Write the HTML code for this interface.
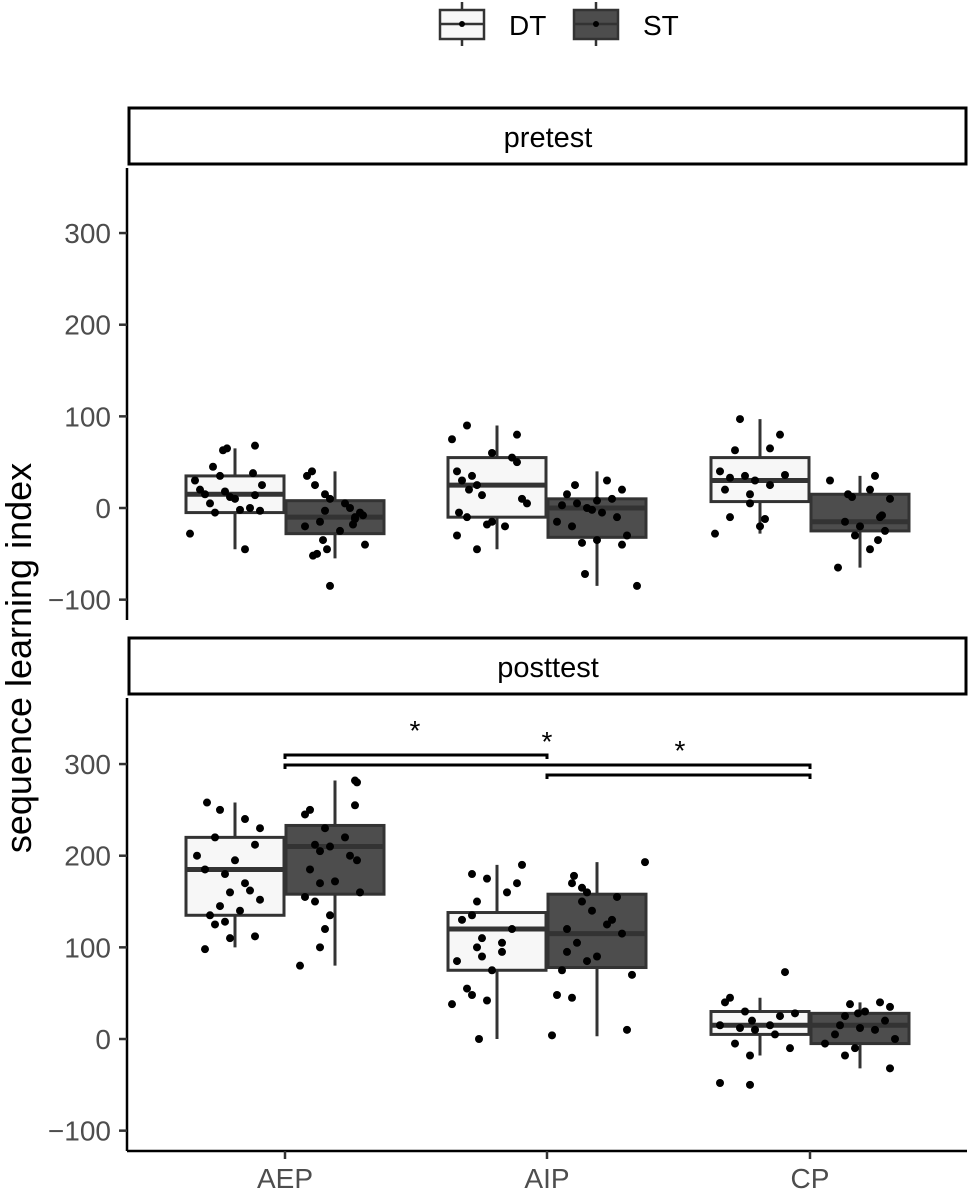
<!DOCTYPE html>
<html><head><meta charset="utf-8"><style>
body{margin:0;background:#fff;font-family:"Liberation Sans",sans-serif}
svg text{font-family:"Liberation Sans",sans-serif}
</style></head><body>
<svg id="c" width="969" height="1199" xmlns="http://www.w3.org/2000/svg">
<g id="legend">
 <g>
  <line x1="462" y1="2" x2="462" y2="46" stroke="#333" stroke-width="2.5"/>
  <rect x="440" y="10" width="44" height="29" fill="#f7f7f7" stroke="#333" stroke-width="2.5"/>
  <line x1="440" y1="24" x2="484" y2="24" stroke="#333" stroke-width="2.5"/>
  <circle cx="462" cy="24" r="3" fill="#000"/>
  <text x="509" y="35" font-size="28" fill="#000">DT</text>
 </g>
 <g>
  <line x1="596" y1="2" x2="596" y2="46" stroke="#333" stroke-width="2.5"/>
  <rect x="574" y="10" width="44" height="29" fill="#4d4d4d" stroke="#333" stroke-width="2.5"/>
  <line x1="574" y1="24" x2="618" y2="24" stroke="#333" stroke-width="2.5"/>
  <circle cx="596" cy="24" r="3" fill="#000"/>
  <text x="643" y="35" font-size="28" fill="#000">ST</text>
 </g>
</g>
<text transform="translate(31,658) rotate(-90)" text-anchor="middle" font-size="36" fill="#000">sequence learning index</text>
<g id="plot"></g>
</svg>
<script>
const categories=["AEP","AIP","CP"];
const groups=["DT","ST"];
const yTicks=[300,200,100,0,-100];
// [lowWhisker, q1, median, q3, highWhisker] per category, group
const preDT=[[-45,-5,15,35,65],[-45,-10,25,55,90],[-28,7,30,55,97]];
const preST=[[-55,-28,-10,8,40],[-85,-32,0,10,40],[-65,-25,-15,15,35]];
const postDT=[[100,135,185,220,258],[0,75,120,138,190],[-18,5,15,30,45]];
const postST=[[80,158,210,233,282],[3,78,115,158,193],[-32,-5,15,28,40]];
// jittered points (value, jitter)
const prePtsDT=[[65,63,68,45,35,30,20,15,12,10,5,0,-3,-5,-28,-45,-2,18,38,25,14],
 [90,80,75,60,55,50,40,35,30,25,20,10,-5,-10,-15,-20,-30,-45,-18,14,5],
 [97,80,65,63,40,35,30,25,20,15,-10,-12,-28,33,36,-20,5]];
const preJDT=[[-8,-12,20,-22,-15,-40,-35,-30,-5,0,-25,15,25,-20,-45,10,5,-10,18,27,20],
 [-30,20,-45,-5,15,20,-40,-25,-35,-20,-28,25,-38,-30,-5,8,-40,-20,-10,-15,30],
 [-20,20,10,-25,-40,-15,-5,10,-35,-10,-30,5,-45,-30,25,0,-10]];
const prePtsST=[[40,35,25,15,10,5,0,-5,-10,-15,-20,-25,-35,-45,-50,-52,-85,-40,-8,-12,-3,-18],
 [30,25,20,15,10,5,0,-5,-10,-15,-20,-30,-35,-38,-40,-72,-85,-2,3,8],
 [35,30,20,15,10,-10,-15,-20,-25,-30,-35,-45,-65,12,-8]];
const preJST=[[-23,-28,-20,-10,-5,10,15,25,20,-15,-30,5,-12,-8,-18,-22,-5,30,28,20,-10,18],
 [10,-22,25,-30,15,-20,-10,5,20,-40,-25,30,0,-15,25,-12,40,-5,-35,0],
 [15,-30,10,-12,30,20,-15,0,25,-5,18,10,-22,-8,22]];
const postPtsDT=[[258,250,240,230,220,212,200,195,185,180,170,160,145,140,135,128,125,112,110,98,162,152],
 [190,180,170,160,150,135,130,120,110,100,95,90,85,75,55,48,42,38,0,175,105],
 [73,45,40,30,25,20,15,12,10,5,-5,-10,-18,-48,-50,15,28]];
const postJDT=[[-28,-15,10,25,-20,20,-38,0,-30,-10,10,-5,-15,5,-25,-10,-20,20,-5,-30,15,25],
 [25,-25,20,10,-20,-25,-35,15,-15,-20,5,-15,-40,-5,-30,-25,-10,-45,-18,-10,5],
 [25,-30,-35,-15,20,-8,-40,-20,-5,15,-25,30,-10,-40,-10,10,35]];
const postPtsST=[[282,280,255,250,245,230,220,212,210,205,200,195,185,170,160,155,150,135,120,100,80,172],
 [193,178,170,160,155,150,140,130,120,115,105,95,90,85,75,70,48,45,10,4,165,125],
 [40,38,35,30,25,20,15,10,5,0,-5,-10,-18,-32,12,28]];
const postJST=[[20,22,20,-25,-30,-10,10,-20,-5,-15,15,22,-25,-15,25,-30,-20,-5,-10,-15,-35,0],
 [48,-23,-25,-10,20,-15,-5,15,-30,25,-20,-30,0,-10,-35,35,-40,-25,30,-45,-15,10],
 [20,-10,30,5,-15,25,-20,15,-25,35,-35,-5,-15,30,0,-2]];

const NS="http://www.w3.org/2000/svg";
const plot=document.getElementById('plot');
function mk(tag,attrs,parent){const e=document.createElementNS(NS,tag);for(const k in attrs)e.setAttribute(k,attrs[k]);(parent||plot).appendChild(e);return e;}
const catX=[285,547,810];
function xPos(ci,gi){return catX[ci]+(gi===0?-50:50);}
const panels=[
 {title:"pretest",stripTop:108,zero:508,bot:620,top:168,box:[preDT,preST],pts:[[prePtsDT,preJDT],[prePtsST,preJST]]},
 {title:"posttest",stripTop:638,zero:1039,bot:1151,top:698,box:[postDT,postST],pts:[[postPtsDT,postJDT],[postPtsST,postJST]]}
];
const k=0.9165;
panels.forEach((p,pi)=>{
 const y=v=>p.zero-v*k;
 const g=mk('g',{});
 
 
 const s=mk('rect',{x:129,y:p.stripTop,width:837,height:56,fill:'#fff',stroke:'#000','stroke-width':3},g);
 
 
 const st=mk('text',{x:548,y:p.stripTop+39,'text-anchor':'middle','font-size':29,fill:'#000'},g);
 st.textContent=p.title;
 
 
 const ax=mk('line',{x1:127,y1:p.top,x2:127,y2:p.bot,stroke:'#000','stroke-width':2.5},g);
 
 
 yTicks.forEach(t=>{
  mk('line',{x1:119,x2:127,y1:y(t),y2:y(t),stroke:'#333','stroke-width':2.5},g);
  const tx=mk('text',{x:111,y:y(t)+10,'text-anchor':'end','font-size':28,fill:'#4d4d4d'},g);
  tx.textContent=t===-100?'\u2212100':String(t);
  
  
 });
 for(let gi=0;gi<2;gi++){
  for(let ci=0;ci<3;ci++){
   const b=p.box[gi][ci];const cx=xPos(ci,gi);
   const bg=mk('g',{},g);
   
   
   mk('line',{x1:cx,x2:cx,y1:y(b[0]),y2:y(b[4]),stroke:'#333','stroke-width':3},bg);
   mk('rect',{x:cx-49,y:y(b[3]),width:98,height:y(b[1])-y(b[3]),fill:gi?'#4d4d4d':'#f7f7f7',stroke:'#333','stroke-width':3},bg);
   mk('line',{x1:cx-49,x2:cx+49,y1:y(b[2]),y2:y(b[2]),stroke:'#333','stroke-width':5},bg);
   const [vals,jit]=p.pts[gi];
   vals[ci].forEach((v,i)=>{
    const c=mk('circle',{cx:cx+jit[ci][i],cy:y(v),r:4,fill:'#000'},bg);
    
    
   });
  }
 }
 if(pi===1){
  const xa=mk('line',{x1:127,x2:967,y1:1151,y2:1151,stroke:'#000','stroke-width':2.5},g);
  
  
  categories.forEach((c,ci)=>{
   mk('line',{x1:catX[ci],x2:catX[ci],y1:1151,y2:1159,stroke:'#333','stroke-width':2.5},g);
   const t=mk('text',{x:catX[ci],y:1188,'text-anchor':'middle','font-size':28,fill:'#4d4d4d'},g);
   t.textContent=c;
   
   
  });
  const br=[[0,1,755,415,740],[0,2,765,547,751],[1,2,775,680,760]];
  br.forEach(([a,bb,yy,sx,sy])=>{
   const bgp=mk('g',{},g);
   
   
   mk('path',{d:`M${catX[a]},${yy+4}V${yy}H${catX[bb]}V${yy+4}`,fill:'none',stroke:'#000','stroke-width':3},bgp);
   const t=mk('text',{x:sx,y:sy,'text-anchor':'middle','font-size':28,fill:'#000'},bgp);
   t.textContent='*';
  });
 }
});
</script>
</body></html>
